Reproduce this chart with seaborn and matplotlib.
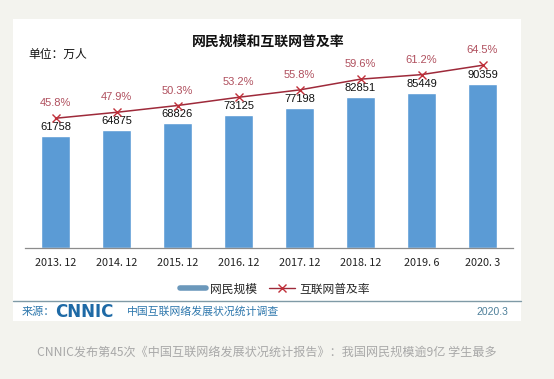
import numpy as np
import matplotlib
matplotlib.use("Agg")
import matplotlib.pyplot as plt
from matplotlib.patches import Rectangle
from matplotlib.lines import Line2D
import seaborn as sns

# data
periods = ["2013. 12", "2014. 12", "2015. 12", "2016. 12", "2017. 12", "2018. 12", "2019. 6", "2020. 3"]
users = [61758, 64875, 68826, 73125, 77198, 82851, 85449, 90359]   # 万人
rates = [45.8, 47.9, 50.3, 53.2, 55.8, 59.6, 61.2, 64.5]           # %

title = "网民规模和互联网普及率"
unit_label = "单位：万人"
legend_labels = ["网民规模", "互联网普及率"]
source_label = "来源："
source_name = "中国互联网络发展状况统计调查"
source_date = "2020.3"
caption = "CNNIC发布第45次《中国互联网络发展状况统计报告》：我国网民规模逾9亿 学生最多"

sns.set_style("white")
plt.rcParams['font.family'] = ['Noto Sans CJK SC', 'DejaVu Sans']

W, H = 554, 379
bar_blue = "#5b9bd5"
line_red = "#9e2a3a"
label_red = "#b0505e"
cnnic_blue = "#2f78ad"

fig = plt.figure(figsize=(W / 100, H / 100), dpi=100, facecolor="#f3f3ee")

#  white card behind the chart
fig.patches.append(Rectangle((13 / W, 1 - 321 / H), 508 / W, 302 / H,
                             transform=fig.transFigure, facecolor="white",
                             edgecolor="none", zorder=-5))
fig.add_artist(Line2D([13 / W, 521 / W], [1 - 301 / H, 1 - 301 / H],
                      color="#7f9aa6", lw=1.0))

#  bars
ax = fig.add_axes([25 / W, 1 - 248 / H, 488 / W, 200 / H])
ax.set_facecolor("none")
sns.barplot(x=periods, y=users, color=bar_blue, saturation=1, width=0.475,
            errorbar=None, ax=ax)
ax.set_xlim(-0.5, len(periods) - 0.5)
ax.set_ylim(0, 110000)
for s in ["left", "top", "right"]:
    ax.spines[s].set_visible(False)
ax.spines["bottom"].set_color("#8c8c8c")
ax.spines["bottom"].set_linewidth(0.9)
ax.set_yticks([])
ax.set_xlabel("")
ax.set_ylabel("")
ax.set_xticks(np.arange(-0.5, len(periods), 1), minor=True)
ax.tick_params(axis="x", which="major", length=0, pad=7, labelsize=7.8, colors="#222222")
ax.tick_params(axis="x", which="minor", length=3, direction="in", color="#8c8c8c", width=0.8)

for i, v in enumerate(users):
    ax.annotate(f"{v}", (i, v), xytext=(0, 9), textcoords="offset pixels",
                ha="center", va="center", fontsize=8, family="Liberation Sans",
                color="#111111")

#  penetration rate line
ax2 = ax.twinx()
x_idx = np.arange(len(periods))
sns.lineplot(x=x_idx, y=rates, ax=ax2, color=line_red, lw=1.1, marker="x",
             markersize=6, markeredgecolor="#c0303a", markeredgewidth=1.0)
ax2.set_ylim(0, 70.6)
ax2.set_xlim(-0.5, len(periods) - 0.5)
ax2.set_yticks([])
ax2.set_ylabel("")
for s in ["left", "top", "right", "bottom"]:
    ax2.spines[s].set_visible(False)

for i, r in enumerate(rates):
    ax2.annotate(f"{r}%", (i, r), xytext=(0, 15), textcoords="offset pixels",
                 ha="center", va="center", fontsize=8, family="Liberation Sans",
                 color=label_red)

#  legend
handles = [Line2D([], [], color="#6b98bb", lw=4),
           Line2D([], [], color=line_red, lw=1.0, marker="x", markersize=6,
                  markeredgecolor="#c0303a")]
fig.legend(handles, legend_labels, loc="center", bbox_to_anchor=(275 / W, 1 - 289 / H),
           ncol=2, frameon=False, fontsize=8.5, handlelength=2.2, handletextpad=0.4,
           columnspacing=1.0)

#  texts
fig.text(268 / W, 1 - 42 / H, title, ha="center", va="center", fontsize=10,
         weight="bold", color="#111111")
fig.text(28 / W, 1 - 54 / H, unit_label, ha="left", va="center", fontsize=8.5,
         color="#111111")
fig.text(22 / W, 1 - 312 / H, source_label, ha="left", va="center", fontsize=8,
         color=cnnic_blue)
fig.text(55 / W, 1 - 312 / H, "CNNIC", ha="left", va="center", fontsize=12,
         weight="bold", family="DejaVu Sans", color="#1e6aa6")
fig.text(127 / W, 1 - 312 / H, source_name, ha="left", va="center", fontsize=7.8,
         color=cnnic_blue)
fig.text(508 / W, 1 - 312 / H, source_date, ha="right", va="center", fontsize=7.5,
         family="Liberation Sans", color="#4d7f99")
fig.text(267 / W, 1 - 352 / H, caption, ha="center", va="center", fontsize=8.7,
         color="#a8a8a8")

fig.savefig("out.png", dpi=100, facecolor=fig.get_facecolor())
